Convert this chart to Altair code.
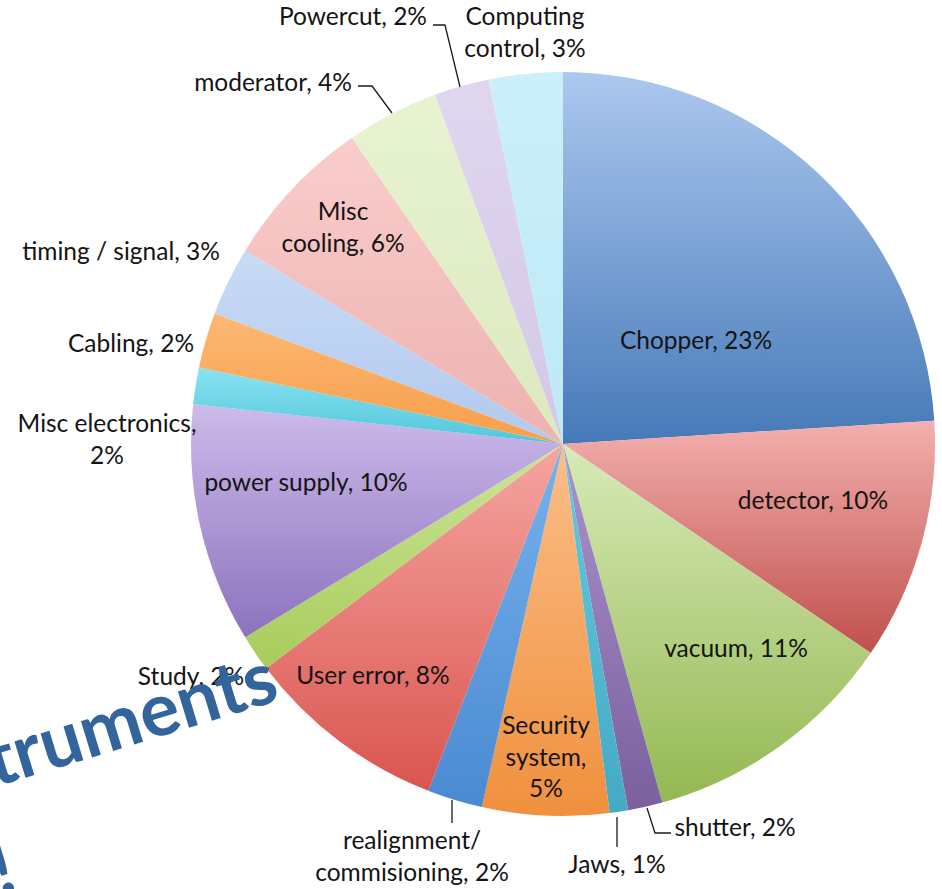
import altair as alt
import pandas as pd

# ---------------- data ----------------
categories = [
    "Chopper", "detector", "vacuum", "shutter", "Jaws", "Security system",
    "realignment/commisioning", "User error", "Study", "power supply",
    "Misc electronics", "Cabling", "timing / signal", "Misc cooling",
    "moderator", "Powercut", "Computing control",
]
shares = [24.0, 10.5, 11.2, 1.5, 0.8, 5.5, 2.4, 8.8, 1.6, 10.4, 1.6, 2.4,
          3.0, 6.7, 4.0, 2.4, 3.2]
label_texts = [
    "Chopper, 23%", "detector, 10%", "vacuum, 11%", "shutter, 2%", "Jaws, 1%",
    "Security\nsystem,\n5%", "realignment/\ncommisioning, 2%", "User error, 8%",
    "Study, 2%", "power supply, 10%", "Misc electronics,\n2%", "Cabling, 2%",
    "timing / signal, 3%", "Misc\ncooling, 6%", "moderator, 4%",
    "Powercut, 2%", "Computing\ncontrol, 3%",
]
overlay_texts = ["truments", "!"]

# ---------------- layout / style (pixels relative to pie centre) ----------------
# (for multi-line labels the position is that of the first line)
label_dx = [133, 250, 173, 172, 54, -17, -151, -190, -372, -257, -456, -432,
            -442, -220, -290, -210, -38]
label_dy = [-102, 58, 206, 385, 422, 283, 398, 233, 234, 40, -19, -99,
            -191, -231, -360, -426, -426]
leader_id = ["pc", "pc", "pc", "mo", "mo", "mo", "sh", "sh", "sh", "ja", "ja", "re", "re"]
leader_ord = [0, 1, 2, 0, 1, 2, 0, 1, 2, 0, 1, 0, 1]
leader_dx = [-130, -118, -103, -205, -191, -171, 84, 92, 108, 54, 54, -111, -111]
leader_dy = [-419, -419, -357, -358, -358, -331, 364, 389, 389, 373, 403, 356, 379]
overlay_dx = [-568, -563]
overlay_dy = [343, 452]

gradients = [
    ("#acc8ef", "#4679b8"), ("#f3b0ae", "#c0504d"), ("#d8eab8", "#94b852"),
    ("#a994cd", "#7b5f9e"), ("#62cbe0", "#45aac4"), ("#fbbe88", "#f0903d"),
    ("#78b2ec", "#4a8ad2"), ("#f5a5a0", "#da5550"), ("#cce497", "#a8cc5b"),
    ("#cdbbea", "#8c72be"), ("#88e3f2", "#52c6da"), ("#fdb872", "#f79e4c"),
    ("#c8dbf6", "#b2c9ee"), ("#f9cdcc", "#edb2b0"), ("#e8f3d2", "#dce9be"),
    ("#e0d7ef", "#d3c7e6"), ("#cbf0fa", "#bde8f6"),
]

W, H = 942, 889
CX, CY = 563, 444
R = 372
total = sum(shares)

xs = alt.Scale(domain=[-CX, W - CX], nice=False, zero=False)
ys = alt.Scale(domain=[-CY, H - CY], nice=False, zero=False, reverse=True)
ts = alt.Scale(domain=[0, total])

pie_df = pd.DataFrame({"idx": list(range(len(categories))),
                       "category": categories, "share": shares})

layers = []
for cat, (c_top, c_bot) in zip(categories, gradients):
    grad = alt.LinearGradient(
        gradient="linear",
        stops=[alt.GradientStop(color=c_top, offset=0),
               alt.GradientStop(color=c_bot, offset=1)],
        x1=0, x2=0, y1=0, y2=1,
    )
    layer = (
        alt.Chart(pie_df)
        .transform_window(end="sum(share)", sort=[alt.SortField("idx")], frame=[None, 0])
        .transform_calculate(start="datum.end - datum.share")
        .transform_filter(alt.datum.category == cat)
        .mark_arc(radius=R, fill=grad, stroke=None)
        .encode(
            theta=alt.Theta("start:Q", scale=ts),
            theta2="end:Q",
            x=alt.XDatum(0, type="quantitative", scale=xs, axis=None),
            y=alt.YDatum(0, type="quantitative", scale=ys, axis=None),
        )
    )
    layers.append(layer)

lab_df = pd.DataFrame({"label": label_texts, "lx": label_dx, "ly": label_dy})
labels = alt.Chart(lab_df).mark_text(
    font="Lato", fontSize=24.5, color="#141414", align="center",
    baseline="middle", lineBreak="\n", lineHeight=31.5,
).encode(
    x=alt.X("lx:Q", scale=xs, axis=None),
    y=alt.Y("ly:Q", scale=ys, axis=None),
    text="label:N",
)

lead_df = pd.DataFrame({"id": leader_id, "ord": leader_ord,
                        "lx": leader_dx, "ly": leader_dy})
leaders = alt.Chart(lead_df).mark_line(color="#1a1a1a", strokeWidth=1.3).encode(
    x=alt.X("lx:Q", scale=xs, axis=None),
    y=alt.Y("ly:Q", scale=ys, axis=None),
    detail="id:N",
    order="ord:Q",
)

ov_df = pd.DataFrame({"t": overlay_texts, "lx": overlay_dx, "ly": overlay_dy})
overlay = alt.Chart(ov_df).mark_text(
    font="Lato", fontWeight="bold", fontSize=74, color="#33649b",
    align="left", baseline="alphabetic", angle=343,
).encode(
    x=alt.X("lx:Q", scale=xs, axis=None),
    y=alt.Y("ly:Q", scale=ys, axis=None),
    text="t:N",
)

chart = (
    alt.layer(*layers, leaders, labels, overlay)
    .properties(width=W, height=H, padding=0, background="white",
                autosize=alt.AutoSizeParams(type="none"))
    .configure_view(stroke=None)
)

chart.save("out.html", embed_options={"renderer": "svg", "actions": False})
